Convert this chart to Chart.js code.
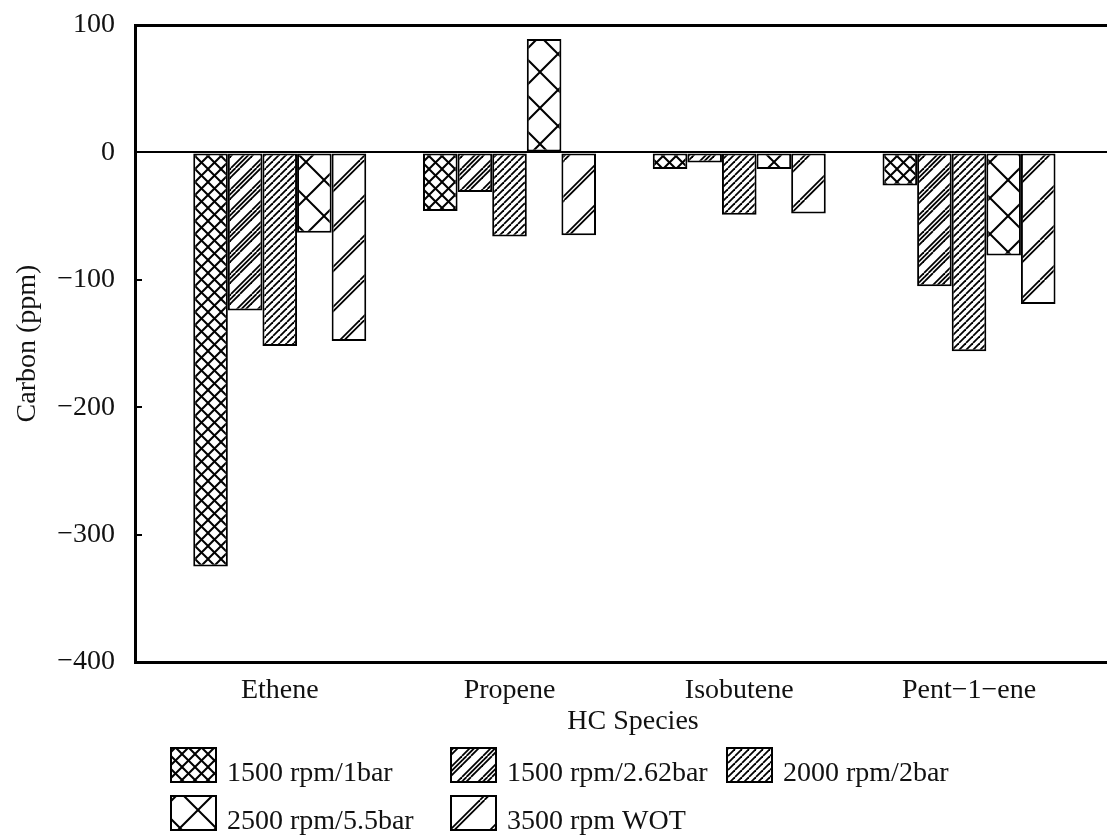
<!DOCTYPE html>
<html>
<head>
<meta charset="utf-8">
<script src="https://cdn.jsdelivr.net/npm/chart.js@4"></script>
<style>
  html, body { margin: 0; padding: 0; background: #fff; overflow: hidden; }
  #wrap { width: 1140px; height: 837px; position: relative; }
</style>
</head>
<body>
<div id="wrap"><canvas id="c"></canvas></div>
<script>
// Hydrocarbon species on the x axis
const categories = ['Ethene', 'Propene', 'Isobutene', 'Pent\u22121\u2212ene'];

// Engine operating points (series names)
const seriesLabels = ['1500 rpm/1bar', '1500 rpm/2.62bar', '2000 rpm/2bar', '2500 rpm/5.5bar', '3500 rpm WOT'];

// Change in carbon (ppm) per species, one array per operating point
const rpm1500_1bar    = [-325, -46, -13, -26];
const rpm1500_262bar  = [-124, -31,  -8, -105];
const rpm2000_2bar    = [-152, -66, -49, -156];
const rpm2500_55bar   = [ -63,  89, -13,  -81];
const rpm3500_wot     = [-148, -65, -48, -119];

// Y axis tick values
const yTicks = [100, 0, -100, -200, -300, -400];

const seriesValues = [rpm1500_1bar, rpm1500_262bar, rpm2000_2bar, rpm2500_55bar, rpm3500_wot];

// Black-on-white hatch fills
function hatch(period, offsets, cross, lw) {
  const c = document.createElement('canvas');
  c.width = c.height = period;
  const g = c.getContext('2d');
  g.fillStyle = '#fff';
  g.fillRect(0, 0, period, period);
  g.strokeStyle = '#000';
  g.lineWidth = lw;
  for (const d of offsets) {
    for (let k = -1; k <= 1; k++) {
      g.beginPath();
      g.moveTo(k * period + d, period);
      g.lineTo(k * period + d + period, 0);
      g.stroke();
      if (cross) {
        g.beginPath();
        g.moveTo(k * period + d, 0);
        g.lineTo(k * period + d + period, period);
        g.stroke();
      }
    }
  }
  return g.createPattern(c, 'repeat');
}

const fills = [
  hatch(13, [0], true, 2),            // fine cross-hatch
  hatch(21, [0, 4.5, 9], false, 1.8), // grouped diagonals
  hatch(7, [0], false, 1.8),          // dense diagonals
  hatch(36, [0], true, 2),            // wide cross-hatch
  hatch(40, [0, 4.5], false, 1.8)     // paired diagonals
];

const FONT = '"Liberation Serif", "Times New Roman", serif';
Chart.defaults.font.family = FONT;
Chart.defaults.font.size = 28;
Chart.defaults.color = '#111';

// Grid-style legend under the plot
const legendLayout = { cols: [170, 450, 726], rows: [747, 795], boxW: 47, boxH: 36, gap: 10 };
const gridLegend = {
  id: 'gridLegend',
  afterDraw(chart) {
    const ctx = chart.ctx;
    const L = legendLayout;
    chart.data.datasets.forEach((ds, i) => {
      const x = L.cols[i % 3];
      const y = L.rows[Math.floor(i / 3)];
      ctx.save();
      ctx.fillStyle = ds.backgroundColor;
      ctx.fillRect(x, y, L.boxW, L.boxH);
      ctx.lineWidth = 2;
      ctx.strokeStyle = '#000';
      ctx.strokeRect(x + 1, y + 1, L.boxW - 2, L.boxH - 2);
      ctx.fillStyle = '#111';
      ctx.font = '28px ' + FONT;
      ctx.textBaseline = 'alphabetic';
      ctx.textAlign = 'left';
      ctx.fillText(ds.label, x + L.boxW + L.gap, y + L.boxH - 2);
      ctx.restore();
    });
  }
};

// Short tick marks pointing into the plot from the y axis
const innerTicks = {
  id: 'innerTicks',
  afterDraw(chart) {
    const s = chart.scales.y;
    const ctx = chart.ctx;
    const left = chart.chartArea.left;
    ctx.save();
    ctx.strokeStyle = '#000';
    ctx.lineWidth = 2;
    s.ticks.forEach(t => {
      const y = Math.round(s.getPixelForValue(t.value));
      ctx.beginPath();
      ctx.moveTo(left, y);
      ctx.lineTo(left + 7, y);
      ctx.stroke();
    });
    ctx.restore();
  }
};

new Chart(document.getElementById('c'), {
  type: 'bar',
  data: {
    datasets: seriesLabels.map((label, i) => ({
      label,
      data: categories.map((c, j) => ({ x: j + 1, y: seriesValues[i][j] })),
      backgroundColor: fills[i]
    }))
  },
  options: {
    responsive: true,
    maintainAspectRatio: false,
    animation: false,
    layout: { padding: { left: 0, top: 25, right: 9, bottom: 95 } },
    datasets: {
      bar: {
        categoryPercentage: 0.753,
        barPercentage: 1,
        borderWidth: 2,
        borderColor: '#000',
        borderSkipped: false
      }
    },
    plugins: { legend: { display: false }, tooltip: { enabled: false } },
    scales: {
      x: {
        type: 'linear',
        min: 0.37,
        max: 4.705,
        offset: false,
        afterBuildTicks: s => { s.ticks = categories.map((c, i) => ({ value: i + 1 })); },
        afterFit: s => { s.height = 80; s.paddingLeft = 0; s.paddingRight = 0; },
        ticks: {
          padding: 12,
          autoSkip: false,
          maxRotation: 0,
          callback: v => categories[v - 1] ?? ''
        },
        grid: { display: true, drawOnChartArea: false, drawTicks: false, color: 'transparent' },
        border: { display: true, color: '#000', width: 3 },
        title: { display: true, text: 'HC Species', padding: { top: 0, bottom: 4 } }
      },
      y: {
        min: -400,
        max: 100,
        afterBuildTicks: s => { s.ticks = yTicks.map(v => ({ value: v })); },
        afterFit: s => { s.width = 135; s.paddingTop = 0; s.paddingBottom = 0; },
        ticks: {
          padding: 20,
          callback: v => (v < 0 ? '\u2212' + Math.abs(v) : String(v))
        },
        grid: {
          drawTicks: false,
          color: c => (c.tick && (c.tick.value === 100 || c.tick.value === 0)) ? '#000' : 'transparent',
          lineWidth: c => (c.tick && c.tick.value === 100) ? 3 : 2
        },
        border: { display: true, color: '#000', width: 3 },
        title: { display: true, text: 'Carbon (ppm)', padding: { top: 11, bottom: 0 } }
      }
    }
  },
  plugins: [gridLegend, innerTicks]
});
</script>
</body>
</html>
